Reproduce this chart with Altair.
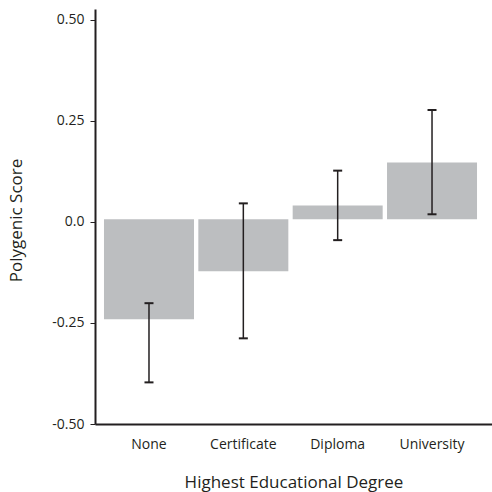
import altair as alt
import pandas as pd

# Mean polygenic score by highest educational degree, with interval bounds
categories = ["None", "Certificate", "Diploma", "University"]
means = [-0.241, -0.122, 0.041, 0.147]
lower = [-0.397, -0.288, -0.045, 0.019]
upper = [-0.201, 0.046, 0.127, 0.277]
bar_base = 0.007  # bars hang from this reference level

y_ticks = [-0.5, -0.25, 0.0, 0.25, 0.5]

df = pd.DataFrame({
    "degree": categories,
    "mean": means,
    "lo": lower,
    "hi": upper,
    "base": [bar_base] * len(categories),
})

FONT = "Open Sans"
INK = "#231f20"

x_enc = alt.X(
    "degree:N",
    sort=categories,
    scale=alt.Scale(paddingInner=0.046, paddingOuter=0.127, align=0.375),
    axis=alt.Axis(
        title="Highest Educational Degree",
        labelAngle=0,
        ticks=False,
        labelPadding=13,
        labelFontSize=14,
        titleFontSize=17,
        titlePadding=23,
    ),
)

y_scale = alt.Scale(domain=[-0.5, 0.527], nice=False, zero=False)
y_axis = alt.Axis(
    title="Polygenic Score",
    values=y_ticks,
    labelExpr="datum.value == 0 ? '0.0' : (datum.value < 0 ? '-' + format(-datum.value, '.2f') : format(datum.value, '.2f'))",
    tickSize=5,
    tickWidth=1,
    labelPadding=6,
    labelFontSize=14,
    titleFontSize=17,
    titlePadding=26,
    titleY=211,
)

base = alt.Chart(df).encode(x=x_enc)

bars = base.mark_bar(color="#bcbec0").encode(
    y=alt.Y("mean:Q", scale=y_scale, axis=y_axis),
    y2="base:Q",
)

whiskers = base.mark_rule(color=INK, strokeWidth=1.5).encode(
    y=alt.Y("lo:Q", scale=y_scale),
    y2="hi:Q",
)

cap_lo = base.mark_tick(color=INK, thickness=2, size=9, opacity=1).encode(
    y=alt.Y("lo:Q", scale=y_scale)
)
cap_hi = base.mark_tick(color=INK, thickness=2, size=9, opacity=1).encode(
    y=alt.Y("hi:Q", scale=y_scale)
)

chart = (
    alt.layer(bars, whiskers, cap_lo, cap_hi)
    .properties(
        width=397,
        height=415,
        autosize="none",
        padding={"left": 95, "top": 9, "right": 0, "bottom": 68},
        background="white",
    )
    .configure_view(stroke=None)
    .configure_axis(
        grid=False,
        domainColor=INK,
        domainWidth=2,
        tickColor=INK,
        labelColor=INK,
        titleColor=INK,
        labelFont=FONT,
        titleFont=FONT,
        titleFontWeight="normal",
    )
)

chart.save("out.html", embed_options={"renderer": "svg", "actions": False})
